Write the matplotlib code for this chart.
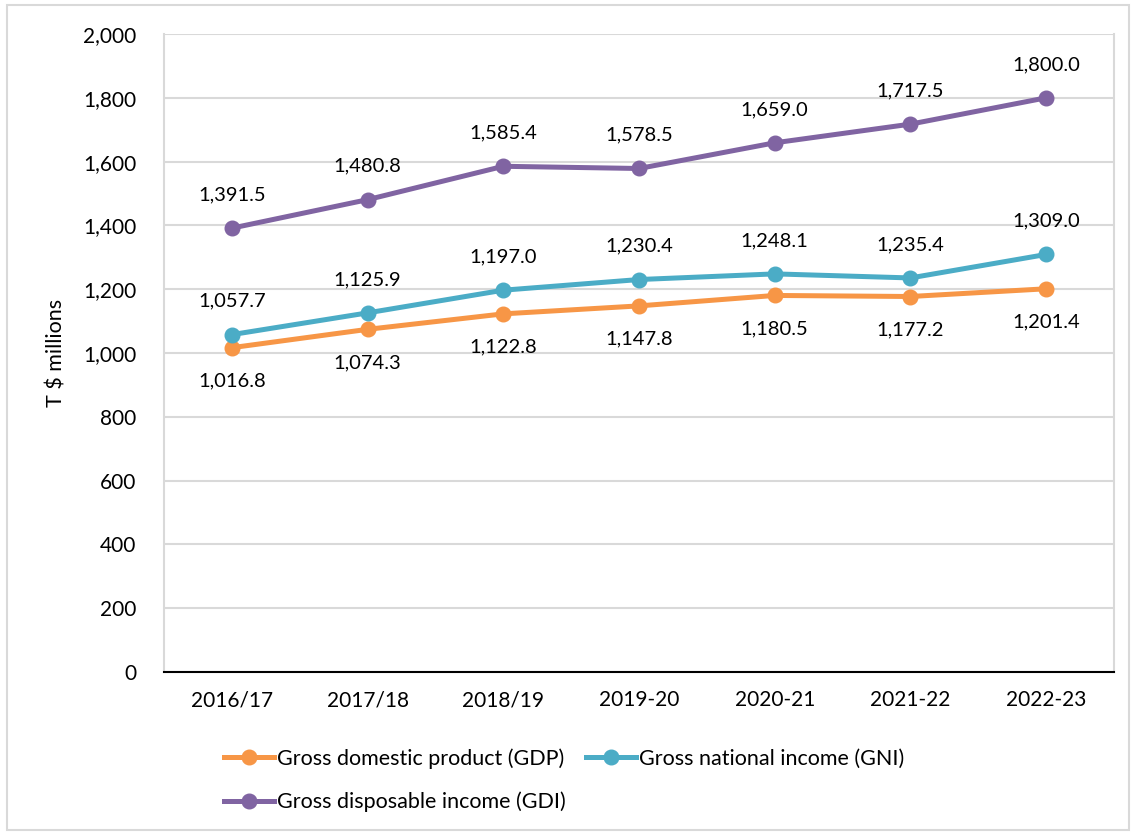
import matplotlib.pyplot as plt
from matplotlib.patches import Rectangle
from matplotlib.ticker import FuncFormatter

plt.rcParams['font.family'] = ['Lato', 'DejaVu Sans']

years = ["2016/17", "2017/18", "2018/19", "2019-20", "2020-21", "2021-22", "2022-23"]
gdp = [1016.8, 1074.3, 1122.8, 1147.8, 1180.5, 1177.2, 1201.4]
gni = [1057.7, 1125.9, 1197.0, 1230.4, 1248.1, 1235.4, 1309.0]
gdi = [1391.5, 1480.8, 1585.4, 1578.5, 1659.0, 1717.5, 1800.0]

orange = "#F79646"
blue = "#4BACC6"
purple = "#8064A2"
grid = "#D9D9D9"

fig = plt.figure(figsize=(11.36, 8.34), dpi=100)
ax = fig.add_axes([0.1444, 0.1942, 0.8362, 0.765])

# outer chart border
fig.patches.append(Rectangle((0.006, 0.005), 0.988, 0.989, transform=fig.transFigure,
                             fill=False, edgecolor=grid, linewidth=1.5))

x = range(len(years))
series = [
    (gdp, orange, "Gross domestic product (GDP)", -1),
    (gni, blue, "Gross national income (GNI)", 1),
    (gdi, purple, "Gross disposable income (GDI)", 1),
]
handles = {}
for vals, col, name, side in series:
    ln, = ax.plot(x, vals, "-o", color=col, lw=3.6, ms=10.5, label=name, zorder=3)
    handles[name] = ln
    for xi, v in zip(x, vals):
        ax.annotate(f"{v:,.1f}", (xi, v), xytext=(0, 24 * side), textcoords="offset points",
                    ha="center", va="center", fontsize=14.5)

ax.set_xlim(-0.5, len(years) - 0.5)
ax.set_ylim(0, 2000)
ax.set_yticks(range(0, 2001, 200))
ax.yaxis.set_major_formatter(FuncFormatter(lambda v, p: f"{v:,.0f}"))
ax.set_xticks(list(x))
ax.set_xticklabels(years)
ax.tick_params(axis="both", length=0, labelsize=15)
ax.tick_params(axis="x", pad=13)
ax.tick_params(axis="y", pad=20)
ax.grid(axis="y", color=grid, lw=1.5)
ax.set_axisbelow(True)
ax.spines["top"].set_visible(False)
for s in ["left", "right"]:
    ax.spines[s].set_color(grid)
    ax.spines[s].set_linewidth(1.5)
ax.spines["bottom"].set_color("black")
ax.spines["bottom"].set_linewidth(1.5)
ax.set_ylabel("T $ millions", fontsize=15.5, labelpad=12)

order = ["Gross domestic product (GDP)", "Gross disposable income (GDI)",
         "Gross national income (GNI)"]
fig.legend([handles[n] for n in order], order, ncol=2, loc="upper left",
           bbox_to_anchor=(0.19, 0.113), frameon=False, fontsize=15.5,
           handlelength=2.3, handletextpad=0.15, columnspacing=0.95, labelspacing=1.05,
           borderaxespad=0)

fig.savefig("out.png", dpi=100)
